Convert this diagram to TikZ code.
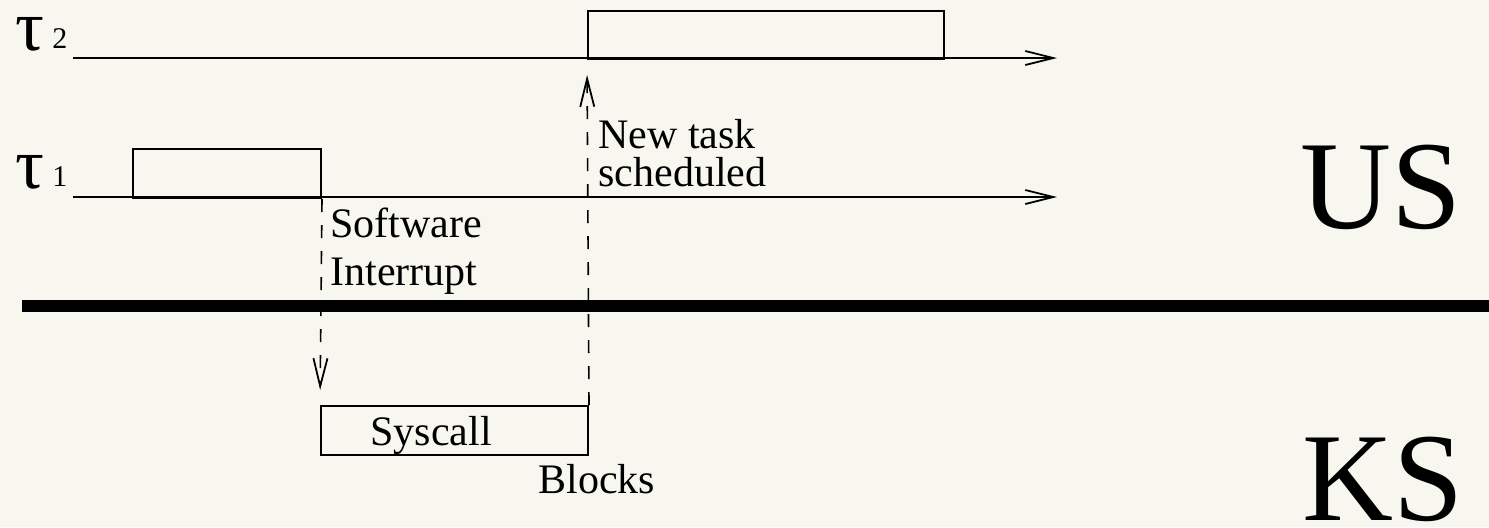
\documentclass[tikz,border=0pt]{standalone}
\usepackage{fontspec}
\setmainfont{Liberation Serif}
\usetikzlibrary{arrows.meta}
\definecolor{paper}{RGB}{247,247,240}
\tikzset{
  thin line/.style={line width=1pt},
  tip/.style={-{Straight Barb[length=14pt,width=7pt,line width=0.9pt]}},
  dashline/.style={line width=0.8pt,dash pattern=on 6.5pt off 6.5pt},
  slot/.style={draw,thin line,rectangle,inner sep=0pt,anchor=north west},
  label/.style={inner sep=0pt,anchor=base west,font=\fontsize{21}{24}\selectfont},
  big/.style={inner sep=0pt,anchor=base west,font=\fontsize{63}{70}\selectfont},
  taskname/.style={inner sep=0pt,anchor=base west,font=\fontsize{36}{40}\selectfont},
  taskidx/.style={inner sep=0pt,anchor=base west,font=\fontsize{15}{18}\selectfont},
}
\begin{document}
\begin{tikzpicture}[x=0.5pt,y=-0.5pt]
  \fill[paper] (0,0) rectangle (1489,527);
  \useasboundingbox (0,0) rectangle (1489,527);

  % task names
  \node[taskname] (tau2) at (15,50) {τ};
  \node[taskidx] (tau2i) at (52,48) {2};
  \node[taskname] (tau1) at (15,188) {τ};
  \node[taskidx] (tau1i) at (52,186) {1};

  % time axes
  \coordinate (a2s) at (73,58);
  \coordinate (a2e) at (1057,58);
  \coordinate (a1s) at (73,197);
  \coordinate (a1e) at (1057,197);
  \draw[thin line,tip] (a2s) -- (a2e);
  \draw[thin line,tip] (a1s) -- (a1e);

  % execution slots
  \node[slot,minimum width=94pt,minimum height=24.5pt] (run1) at (132,148) {};
  \node[slot,minimum width=178pt,minimum height=24pt] (run2) at (587,10) {};
  \node[slot,minimum width=133.5pt,minimum height=24.5pt] (sys) at (320,405) {};
  \node[label] (systxt) at (370,445) {Syscall};

  % user / kernel boundary
  \coordinate (bl) at (22,306);
  \coordinate (br) at (1489,306);
  \draw[line width=6pt] (bl) -- (br);

  % transitions
  \draw[dashline,tip,shorten >=7.5pt] (run1.south east) -- (sys.north west);
  \draw[dashline,tip,shorten >=7.5pt] (sys.north east) -- (run2.south west);

  % annotations (base anchor sits on the last line)
  \node[label,align=left,font=\fontsize{21}{24}\selectfont] (swi) at (330,285) {Software\\Interrupt};
  \node[label,align=left,font=\fontsize{21}{19}\selectfont] (nts) at (598,186) {New task\\scheduled};
  \node[label] (blk) at (538,493) {Blocks};

  % space names
  \node[big] (us) at (1300,228) {US};
  \node[big] (ks) at (1302,520) {KS};
\end{tikzpicture}
\end{document}
